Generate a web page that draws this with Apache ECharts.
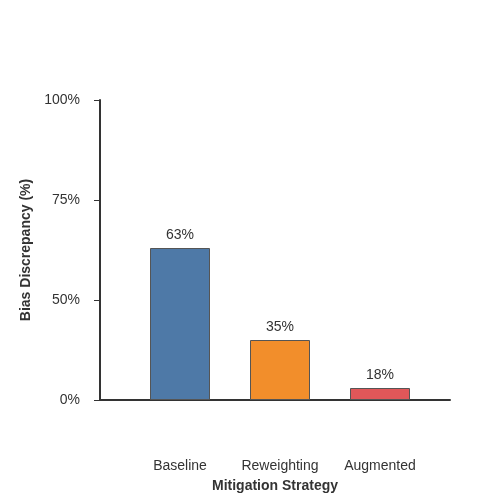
<!DOCTYPE html>
<html>
<head>
<meta charset="utf-8">
<script src="https://cdn.jsdelivr.net/npm/echarts@6/dist/echarts.min.js"></script>
<style>html,body{margin:0;padding:0;background:#fff;}#c{width:500px;height:500px;}</style>
</head>
<body>
<div id="c"></div>
<script>
// Data
var categories = ['Baseline', 'Reweighting', 'Augmented'];
var valueLabels = [63, 35, 18];            // printed bar values (%)
var barHeights = [1.52, 0.60, 0.12];       // bar heights measured against the tick spacing (1 unit = one tick step)
var tickLabels = ['0%', '50%', '75%', '100%'];
var colors = ['#4e79a7', '#f28e2b', '#e15759'];

var chart = echarts.init(document.getElementById('c'), null, {renderer: 'canvas'});
var font = 'Liberation Sans, Arial, sans-serif';
var txt = '#333333';

chart.setOption({
  animation: false,
  backgroundColor: '#ffffff',
  grid: [
    {left: 100, top: 100, width: 350, height: 300, containLabel: false, outerBoundsMode: 'none'},
    {left: 130, top: 100, width: 300, height: 300, containLabel: false, outerBoundsMode: 'none'}
  ],
  xAxis: [
    {
      gridIndex: 0, type: 'value', min: 0, max: 1,
      axisLine: {show: true, onZero: false, lineStyle: {color: '#333', width: 2}},
      axisTick: {show: false}, axisLabel: {show: false}, splitLine: {show: false},
      name: 'Mitigation Strategy', nameLocation: 'middle', nameGap: 79,
      nameTextStyle: {fontFamily: font, fontSize: 14, fontWeight: 'bold', color: txt}
    },
    {
      gridIndex: 1, type: 'category', data: categories,
      axisLine: {show: false}, axisTick: {show: false},
      axisLabel: {show: true, interval: 0, margin: 59, fontFamily: font, fontSize: 14, color: txt}
    }
  ],
  yAxis: [
    {
      gridIndex: 0, type: 'value', min: 0, max: 3, interval: 1,
      axisLine: {show: true, lineStyle: {color: '#333', width: 2}},
      axisTick: {show: true, length: 6, lineStyle: {color: '#333', width: 1}},
      axisLabel: {
        show: true, margin: 20, fontFamily: font, fontSize: 14, color: txt,
        formatter: function (v) { return tickLabels[Math.round(v)] || ''; }
      },
      splitLine: {show: false},
      name: 'Bias Discrepancy (%)', nameLocation: 'middle', nameGap: 67, nameRotate: 90,
      nameTextStyle: {fontFamily: font, fontSize: 14, fontWeight: 'bold', color: txt}
    },
    {
      gridIndex: 1, type: 'value', min: 0, max: 3, interval: 1,
      axisLine: {show: false}, axisTick: {show: false}, axisLabel: {show: false}, splitLine: {show: false}
    }
  ],
  series: [{
    type: 'bar',
    xAxisIndex: 1, yAxisIndex: 1,
    barWidth: 60,
    data: barHeights.map(function (h, i) {
      return {value: h, itemStyle: {color: colors[i], borderColor: '#555555', borderWidth: 1}};
    }),
    label: {
      show: true, position: 'top', distance: 6,
      fontFamily: font, fontSize: 14, color: txt,
      formatter: function (p) { return valueLabels[p.dataIndex] + '%'; }
    }
  }]
});
</script>
</body>
</html>
